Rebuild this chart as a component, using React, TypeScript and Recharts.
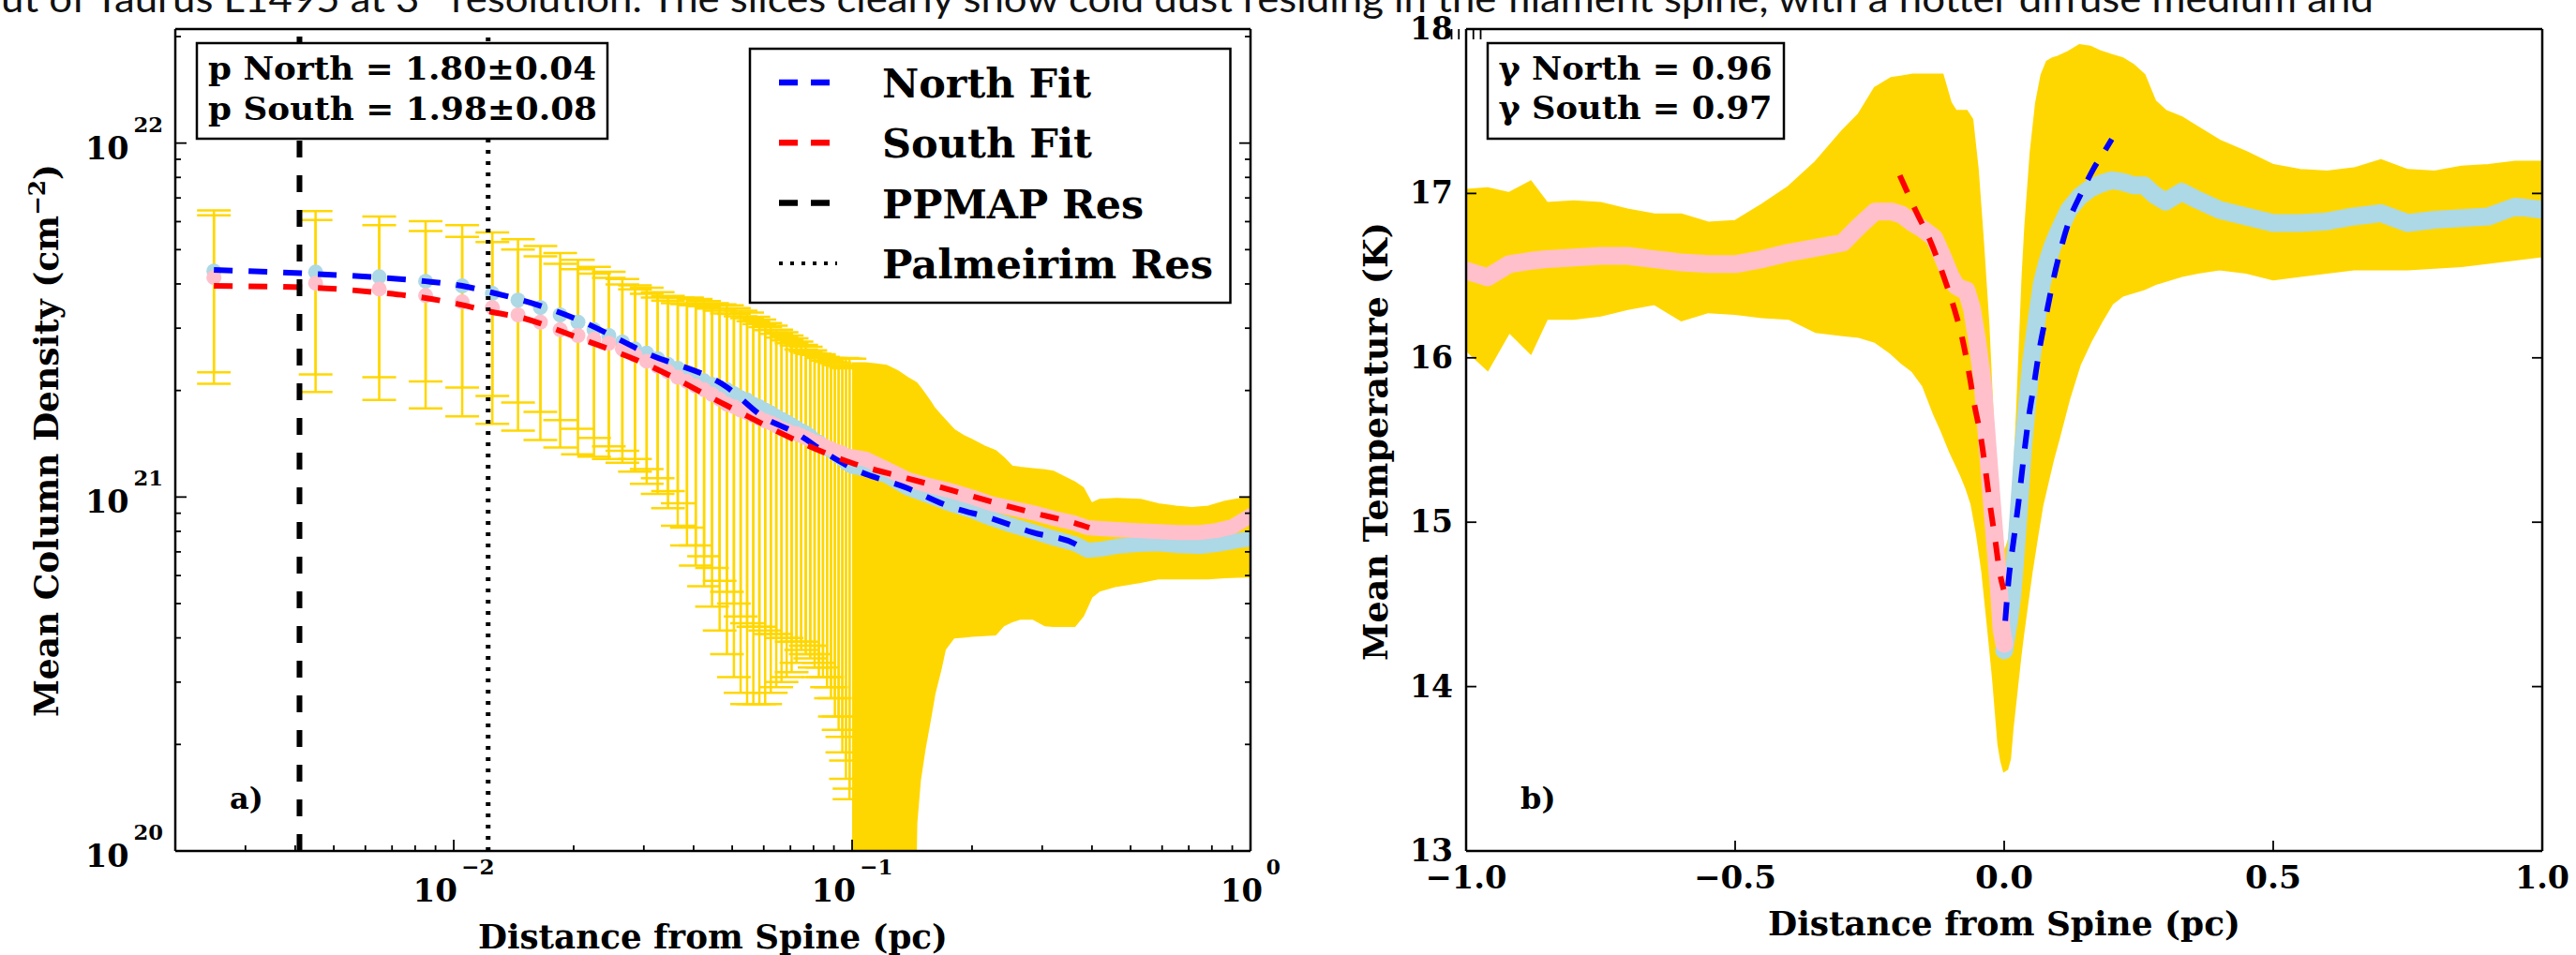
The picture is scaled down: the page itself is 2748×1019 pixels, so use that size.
import React from 'react';
import { ComposedChart, Scatter, Line, Area, XAxis, YAxis, ErrorBar, ReferenceLine } from 'recharts';

const SERIF = '"DejaVu Serif", "Liberation Serif", serif';
const GOLD = '#FFD700';
const LIGHTBLUE = '#ADD8E6';
const PINK = '#FFC0CB';
const E21 = 1e21;

const caption = 'ut of Taurus L1495 at 3\u2033 resolution. The slices clearly show cold dust residing in the filament spine, with a hotter diffuse medium and';

// ---------------- panel a) column density (values in units of 1e21 cm^-2) ----------------
const sparseX = [0.0025, 0.0045, 0.0065, 0.0085, 0.0105, 0.0125, 0.0145, 0.0165, 0.0185, 0.0205, 0.0225, 0.0245, 0.0265, 0.0285, 0.0305, 0.0325, 0.0345, 0.0365, 0.0385, 0.0405, 0.0425, 0.0445, 0.0465, 0.0485, 0.0505, 0.0525, 0.0545, 0.0565, 0.0585, 0.0605, 0.0625, 0.0645, 0.0665, 0.0685, 0.0705, 0.0725, 0.0745, 0.0765, 0.0785, 0.0805, 0.0825, 0.0845, 0.0865, 0.0885, 0.0905, 0.0925, 0.0945, 0.0965, 0.0985];
const northMean21 = [4.35, 4.32, 4.19, 4.07, 3.95, 3.76, 3.60, 3.43, 3.27, 3.12, 2.97, 2.86, 2.74, 2.62, 2.55, 2.46, 2.37, 2.31, 2.24, 2.18, 2.13, 2.08, 2.04, 2.01, 1.96, 1.91, 1.88, 1.83, 1.80, 1.76, 1.73, 1.69, 1.66, 1.63, 1.60, 1.57, 1.54, 1.52, 1.49, 1.45, 1.43, 1.40, 1.37, 1.35, 1.33, 1.30, 1.28, 1.25, 1.23];
const northErr21 = [2.10, 2.10, 2.01, 1.95, 1.91, 1.83, 1.75, 1.69, 1.62, 1.56, 1.50, 1.47, 1.39, 1.34, 1.35, 1.33, 1.33, 1.35, 1.42, 1.45, 1.45, 1.45, 1.46, 1.47, 1.46, 1.45, 1.44, 1.40, 1.37, 1.34, 1.32, 1.28, 1.26, 1.23, 1.21, 1.18, 1.15, 1.14, 1.11, 1.09, 1.09, 1.07, 1.06, 1.06, 1.06, 1.06, 1.07, 1.07, 1.08];
const southMean21 = [4.17, 4.02, 3.87, 3.71, 3.56, 3.43, 3.27, 3.12, 2.97, 2.86, 2.79, 2.72, 2.62, 2.52, 2.42, 2.34, 2.26, 2.18, 2.12, 2.06, 2.01, 1.95, 1.89, 1.83, 1.80, 1.76, 1.73, 1.70, 1.67, 1.64, 1.62, 1.59, 1.56, 1.54, 1.52, 1.51, 1.49, 1.47, 1.45, 1.43, 1.42, 1.40, 1.38, 1.37, 1.35, 1.34, 1.33, 1.31, 1.30];
const southErr21 = [2.08, 2.04, 1.99, 1.93, 1.87, 1.82, 1.73, 1.67, 1.59, 1.54, 1.49, 1.44, 1.37, 1.34, 1.33, 1.32, 1.33, 1.35, 1.39, 1.42, 1.45, 1.46, 1.47, 1.47, 1.49, 1.48, 1.47, 1.44, 1.41, 1.38, 1.34, 1.30, 1.26, 1.23, 1.20, 1.17, 1.12, 1.11, 1.10, 1.10, 1.11, 1.09, 1.09, 1.10, 1.11, 1.12, 1.14, 1.15, 1.16];

const denseX = [0.100, 0.108, 0.122, 0.138, 0.155, 0.175, 0.200, 0.223, 0.250, 0.284, 0.320, 0.362, 0.390, 0.420, 0.460, 0.520, 0.587, 0.660, 0.747, 0.820, 0.900, 0.950, 1.000];
const denseNorth21 = [1.22, 1.20, 1.15, 1.06, 1.01, 0.959, 0.914, 0.871, 0.834, 0.799, 0.766, 0.738, 0.707, 0.712, 0.725, 0.734, 0.738, 0.729, 0.725, 0.734, 0.747, 0.756, 0.761];
const denseSouth21 = [1.30, 1.28, 1.20, 1.12, 1.08, 1.045, 1.00, 0.959, 0.931, 0.903, 0.871, 0.844, 0.819, 0.814, 0.809, 0.804, 0.799, 0.794, 0.794, 0.804, 0.824, 0.855, 0.886];

const bandX = [0.100, 0.104, 0.108, 0.115, 0.122, 0.130, 0.138, 0.143, 0.145, 0.148, 0.152, 0.157, 0.161, 0.167, 0.171, 0.180, 0.190, 0.200, 0.215, 0.229, 0.240, 0.252, 0.264, 0.284, 0.305, 0.320, 0.362, 0.380, 0.399, 0.418, 0.461, 0.530, 0.587, 0.650, 0.712, 0.784, 0.862, 0.930, 1.000];
const bandLo21 = [0.108, 0.05, 0.05, 0.05, 0.05, 0.05, 0.05, 0.05, 0.12, 0.158, 0.193, 0.236, 0.278, 0.328, 0.371, 0.401, 0.403, 0.405, 0.407, 0.409, 0.434, 0.445, 0.453, 0.453, 0.434, 0.432, 0.432, 0.462, 0.522, 0.544, 0.561, 0.575, 0.589, 0.589, 0.589, 0.589, 0.593, 0.595, 0.596];
const bandHi21 = [2.39, 2.39, 2.39, 2.37, 2.35, 2.27, 2.17, 2.12, 2.10, 2.04, 1.96, 1.86, 1.78, 1.70, 1.65, 1.55, 1.49, 1.45, 1.39, 1.35, 1.29, 1.22, 1.21, 1.20, 1.19, 1.18, 1.10, 1.06, 0.959, 0.983, 0.989, 0.983, 0.954, 0.940, 0.931, 0.940, 0.971, 0.985, 1.00];

const northFitXA = [0.0025, 0.0045, 0.0065, 0.0085, 0.0105, 0.0125, 0.0165, 0.0205, 0.0305, 0.0486, 0.060, 0.072, 0.087, 0.0995, 0.1375, 0.175, 0.223, 0.284, 0.362, 0.394];
const northFit21 = [4.38, 4.27, 4.17, 4.07, 3.95, 3.78, 3.47, 3.17, 2.55, 2.04, 1.68, 1.52, 1.32, 1.21, 1.06, 0.942, 0.871, 0.794, 0.738, 0.695];
const southFitXA = [0.0025, 0.0045, 0.0065, 0.0085, 0.0105, 0.0125, 0.0145, 0.0205, 0.0305, 0.0486, 0.072, 0.0995, 0.1375, 0.175, 0.223, 0.284, 0.362, 0.394];
const southFit21 = [3.95, 3.90, 3.78, 3.65, 3.49, 3.33, 3.23, 2.82, 2.37, 1.81, 1.45, 1.25, 1.13, 1.05, 0.971, 0.903, 0.844, 0.819];

const ppmapRes = 0.0041;
const palmeirimRes = 0.0122;

const xMajorTicksA = [0.01, 0.1, 1];
const xMajorExpA = ['\u22122', '\u22121', '0'];
const xMajorWidthA = [87, 87, 64];
const xMinorTicksA = [0.002, 0.003, 0.004, 0.005, 0.006, 0.007, 0.008, 0.009, 0.02, 0.03, 0.04, 0.05, 0.06, 0.07, 0.08, 0.09, 0.2, 0.3, 0.4, 0.5, 0.6, 0.7, 0.8, 0.9];
const yMajorTicksA = [1e20, 1e21, 1e22];
const yMajorExpA = ['20', '21', '22'];
const yMinorTicksA = [2e20, 3e20, 4e20, 5e20, 6e20, 7e20, 8e20, 9e20, 2e21, 3e21, 4e21, 5e21, 6e21, 7e21, 8e21, 9e21, 2e22];

// ---------------- panel b) temperature ----------------
const southXB = [-1.0, -0.96, -0.92, -0.88, -0.85, -0.80, -0.75, -0.70, -0.65, -0.60, -0.55, -0.50, -0.45, -0.40, -0.35, -0.30, -0.27, -0.24, -0.21, -0.19, -0.17, -0.15, -0.13, -0.115, -0.10, -0.09, -0.08, -0.07, -0.06, -0.05, -0.04, -0.03, -0.02, -0.01, -0.005, 0.0];
const southTB = [16.53, 16.49, 16.57, 16.59, 16.60, 16.61, 16.62, 16.62, 16.60, 16.58, 16.57, 16.57, 16.60, 16.64, 16.67, 16.70, 16.80, 16.89, 16.89, 16.87, 16.82, 16.78, 16.73, 16.62, 16.50, 16.44, 16.42, 16.41, 16.30, 16.10, 15.85, 15.42, 15.00, 14.60, 14.35, 14.26];
const southHiB = [17.02, 17.03, 17.00, 17.07, 16.94, 16.95, 16.94, 16.90, 16.87, 16.87, 16.82, 16.83, 16.93, 17.04, 17.19, 17.38, 17.48, 17.64, 17.70, 17.71, 17.72, 17.72, 17.72, 17.72, 17.55, 17.50, 17.50, 17.50, 17.45, 17.15, 16.70, 16.20, 15.50, 15.00, 14.90, 14.80];
const southLoB = [16.05, 15.93, 16.16, 16.03, 16.24, 16.24, 16.26, 16.30, 16.33, 16.23, 16.28, 16.27, 16.25, 16.24, 16.16, 16.14, 16.13, 16.10, 16.03, 15.97, 15.92, 15.83, 15.66, 15.55, 15.43, 15.36, 15.29, 15.21, 15.11, 14.93, 14.70, 14.38, 14.05, 13.65, 13.55, 13.49];

const northXB = [0.0, 0.005, 0.01, 0.015, 0.02, 0.025, 0.03, 0.035, 0.04, 0.05, 0.06, 0.07, 0.08, 0.09, 0.10, 0.12, 0.14, 0.16, 0.18, 0.20, 0.22, 0.24, 0.26, 0.28, 0.30, 0.33, 0.36, 0.40, 0.45, 0.50, 0.55, 0.60, 0.65, 0.70, 0.75, 0.80, 0.85, 0.90, 0.95, 1.0];
const northTB = [14.22, 14.32, 14.42, 14.55, 14.75, 14.97, 15.20, 15.45, 15.62, 15.97, 16.22, 16.45, 16.58, 16.68, 16.76, 16.90, 16.98, 17.03, 17.06, 17.08, 17.07, 17.05, 17.05, 16.99, 16.95, 17.01, 16.96, 16.90, 16.86, 16.82, 16.82, 16.83, 16.86, 16.88, 16.82, 16.84, 16.85, 16.86, 16.92, 16.90];
const northHiB = [14.80, 14.85, 14.90, 15.07, 15.35, 15.70, 16.10, 16.50, 16.80, 17.25, 17.55, 17.72, 17.80, 17.82, 17.83, 17.86, 17.90, 17.89, 17.86, 17.84, 17.82, 17.78, 17.72, 17.56, 17.50, 17.46, 17.40, 17.32, 17.25, 17.17, 17.14, 17.13, 17.15, 17.20, 17.14, 17.13, 17.16, 17.17, 17.19, 17.19];
const northLoB = [13.49, 13.50, 13.56, 13.75, 13.90, 14.05, 14.20, 14.33, 14.45, 14.69, 14.90, 15.10, 15.24, 15.38, 15.50, 15.75, 15.96, 16.10, 16.22, 16.33, 16.38, 16.40, 16.42, 16.45, 16.47, 16.50, 16.52, 16.54, 16.52, 16.48, 16.50, 16.52, 16.54, 16.54, 16.54, 16.55, 16.56, 16.58, 16.60, 16.62];

const southFitXB = [-0.194, -0.165, -0.136, -0.113, -0.092, -0.078, -0.066, -0.055, -0.043, -0.034, -0.026, -0.017, -0.008, -0.001];
const southFitTB = [17.11, 16.90, 16.70, 16.50, 16.29, 16.12, 15.92, 15.71, 15.51, 15.30, 15.10, 14.90, 14.69, 14.59];
const northFitXB = [0.002, 0.008, 0.018, 0.027, 0.035, 0.044, 0.055, 0.066, 0.078, 0.091, 0.105, 0.1225, 0.143, 0.166, 0.189, 0.200];
const northFitTB = [14.40, 14.64, 14.90, 15.13, 15.36, 15.60, 15.83, 16.06, 16.26, 16.47, 16.66, 16.85, 17.00, 17.15, 17.27, 17.33];

const xTicksB = [-1, -0.5, 0, 0.5, 1];
const xTickLabelsB = ['\u22121.0', '\u22120.5', '0.0', '0.5', '1.0'];
const xTickWidthsB = [87, 88, 62, 60, 58];
const yTicksB = [13, 14, 15, 16, 17, 18];
const yTickLabelsB = ['13', '14', '15', '16', '17', '18'];

const legendEntries = [
  { label: 'North Fit', color: '#0000FF', dash: '20 14' },
  { label: 'South Fit', color: '#FF0000', dash: '20 14' },
  { label: 'PPMAP Res', color: '#000000', dash: '20 14' },
  { label: 'Palmeirim Res', color: '#000000', dash: '4 8' },
];
const legendWidths = [223, 224, 279, 353];

// ---------------- derived tables ----------------
const sparseNorth = sparseX.map((x, i) => ({ x, y: northMean21[i] * E21, err: northErr21[i] * E21 }));
const sparseSouth = sparseX.map((x, i) => ({ x, y: southMean21[i] * E21, err: southErr21[i] * E21 }));
const denseNorth = denseX.map((x, i) => ({ x, y: denseNorth21[i] * E21 }));
const denseSouth = denseX.map((x, i) => ({ x, y: denseSouth21[i] * E21 }));
const bandDataA = bandX.map((x, i) => ({ x, band: [bandLo21[i] * E21, bandHi21[i] * E21] }));
const northFitA = northFitXA.map((x, i) => ({ x, y: northFit21[i] * E21 }));
const southFitA = southFitXA.map((x, i) => ({ x, y: southFit21[i] * E21 }));

const bandDataB = [
  ...southXB.map((x, i) => ({ x, band: [southLoB[i], southHiB[i]] })),
  ...northXB.slice(1).map((x, i) => ({ x, band: [northLoB[i + 1], northHiB[i + 1]] })),
];
const southMeanB = southXB.map((x, i) => ({ x, y: southTB[i] }));
const northMeanB = northXB.map((x, i) => ({ x, y: northTB[i] }));
const southFitB = southFitXB.map((x, i) => ({ x, y: southFitTB[i] }));
const northFitB = northFitXB.map((x, i) => ({ x, y: northFitTB[i] }));

const xTicksA = [...xMinorTicksA, ...xMajorTicksA].sort((a, b) => a - b);
const yTicksA = [...yMinorTicksA, ...yMajorTicksA].sort((a, b) => a - b);

const findIdx = (v: number, arr: number[]) => arr.findIndex((m) => Math.abs(v - m) <= Math.abs(m) * 1e-6 + 1e-12);

const AXIS_LINE = { stroke: '#000', strokeWidth: 2.5 };
const TICK = { stroke: '#000', strokeWidth: 1.8 };
const LABEL = { fontFamily: SERIF, fontWeight: 700 as const, fill: '#000' };

// ---------------- tick renderers ----------------
const bottomLogTick = (p: any) => {
  const { x, y, payload } = p;
  const i = findIdx(payload.value, xMajorTicksA);
  const len = i >= 0 ? 12 : 6;
  return (
    <g>
      <line x1={x} x2={x} y1={y} y2={y - len} {...TICK} />
      {i >= 0 && (
        <text x={x} y={y + 54} textAnchor="middle" fontSize={34} {...LABEL} textLength={xMajorWidthA[i]} lengthAdjust="spacingAndGlyphs">
          <tspan>10</tspan>
          <tspan fontSize={23} dx={4} dy={-29}>{xMajorExpA[i]}</tspan>
        </text>
      )}
    </g>
  );
};
const topLogTick = (p: any) => {
  const { x, y, payload } = p;
  const len = findIdx(payload.value, xMajorTicksA) >= 0 ? 12 : 6;
  return <line x1={x} x2={x} y1={y} y2={y + len} {...TICK} />;
};
const leftLogTick = (p: any) => {
  const { x, y, payload } = p;
  const i = findIdx(payload.value, yMajorTicksA);
  const len = i >= 0 ? 12 : 6;
  return (
    <g>
      <line x1={x} x2={x + len} y1={y} y2={y} {...TICK} />
      {i >= 0 && (
        <text x={x - 13} y={y + 17} textAnchor="end" fontSize={34} {...LABEL} textLength={83} lengthAdjust="spacingAndGlyphs">
          <tspan>10</tspan>
          <tspan fontSize={23} dx={5} dy={-29}>{yMajorExpA[i]}</tspan>
        </text>
      )}
    </g>
  );
};
const rightLogTick = (p: any) => {
  const { x, y, payload } = p;
  const len = findIdx(payload.value, yMajorTicksA) >= 0 ? 12 : 6;
  return <line x1={x} x2={x - len} y1={y} y2={y} {...TICK} />;
};

const bottomLinTick = (p: any) => {
  const { x, y, payload } = p;
  const i = findIdx(payload.value, xTicksB);
  return (
    <g>
      <line x1={x} x2={x} y1={y} y2={y - 11} {...TICK} />
      <text x={x} y={y + 40} textAnchor="middle" fontSize={34} {...LABEL} textLength={xTickWidthsB[i]} lengthAdjust="spacingAndGlyphs">{xTickLabelsB[i]}</text>
    </g>
  );
};
const topLinTick = (p: any) => {
  const { x, y } = p;
  return <line x1={x} x2={x} y1={y} y2={y + 11} {...TICK} />;
};
const leftLinTick = (p: any) => {
  const { x, y, payload } = p;
  const i = findIdx(payload.value, yTicksB);
  return (
    <g>
      <line x1={x} x2={x + 11} y1={y} y2={y} {...TICK} />
      <text x={x - 14} y={y + 11} textAnchor="end" fontSize={34} {...LABEL} textLength={46} lengthAdjust="spacingAndGlyphs">{yTickLabelsB[i]}</text>
    </g>
  );
};
const rightLinTick = (p: any) => {
  const { x, y } = p;
  return <line x1={x} x2={x - 11} y1={y} y2={y} {...TICK} />;
};

const renderNothing = () => <g />;
const circleShape = (fill: string) => (p: any) => <circle cx={p.cx} cy={p.cy} r={8} fill={fill} />;
const blueCircle = circleShape(LIGHTBLUE);
const pinkCircle = circleShape(PINK);

const axisCommon = { tickSize: 0, tickMargin: 0, tickLine: false, interval: 0 as const, allowDataOverflow: true, axisLine: AXIS_LINE };

function PanelA() {
  return (
    <ComposedChart width={1400} height={1019} data={bandDataA} margin={{ top: 30, right: 65, bottom: 0, left: 37 }}>
      <XAxis dataKey="x" type="number" scale="log" domain={[0.002, 1]} ticks={xTicksA} tick={bottomLogTick} height={111} {...axisCommon} />
      <XAxis xAxisId="top" orientation="top" type="number" scale="log" domain={[0.002, 1]} ticks={xTicksA} tick={topLogTick} height={1} {...axisCommon} />
      <YAxis dataKey="y" type="number" scale="log" domain={[1e20, 2.1e22]} ticks={yTicksA} tick={leftLogTick} width={150} {...axisCommon} />
      <YAxis yAxisId="right" orientation="right" type="number" scale="log" domain={[1e20, 2.1e22]} ticks={yTicksA} tick={rightLogTick} width={1} {...axisCommon} />

      <Scatter data={sparseNorth} shape={renderNothing} isAnimationActive={false} zIndex={100}>
        <ErrorBar dataKey="err" direction="y" width={18} stroke={GOLD} strokeWidth={2.5} zIndex={100} />
      </Scatter>
      <Scatter data={sparseSouth} shape={renderNothing} isAnimationActive={false} zIndex={101}>
        <ErrorBar dataKey="err" direction="y" width={18} stroke={GOLD} strokeWidth={2.5} zIndex={101} />
      </Scatter>
      <Area dataKey="band" type="linear" fill={GOLD} fillOpacity={1} stroke={GOLD} strokeWidth={2} isAnimationActive={false} dot={false} activeDot={false} zIndex={110} />
      <Line data={denseNorth} dataKey="y" type="linear" stroke={LIGHTBLUE} strokeWidth={16} strokeLinecap="round" strokeLinejoin="round" dot={false} activeDot={false} isAnimationActive={false} zIndex={120} />
      <Scatter data={sparseNorth} shape={blueCircle} isAnimationActive={false} zIndex={130} />
      <Line data={denseSouth} dataKey="y" type="linear" stroke={PINK} strokeWidth={16} strokeLinecap="round" strokeLinejoin="round" dot={false} activeDot={false} isAnimationActive={false} zIndex={140} />
      <Scatter data={sparseSouth} shape={pinkCircle} isAnimationActive={false} zIndex={150} />
      <Line data={northFitA} dataKey="y" type="monotone" stroke="#0000FF" strokeWidth={6} strokeDasharray="20 17" dot={false} activeDot={false} isAnimationActive={false} zIndex={160} />
      <Line data={southFitA} dataKey="y" type="monotone" stroke="#FF0000" strokeWidth={6} strokeDasharray="20 17" dot={false} activeDot={false} isAnimationActive={false} zIndex={170} />
      <ReferenceLine x={ppmapRes} stroke="#000" strokeWidth={6} strokeDasharray="18 19" zIndex={180} />
      <ReferenceLine x={palmeirimRes} stroke="#000" strokeWidth={5} strokeDasharray="4 8" zIndex={181} />
    </ComposedChart>
  );
}

function PanelB() {
  return (
    <ComposedChart width={1348} height={1019} data={bandDataB} margin={{ top: 30, right: 35, bottom: 0, left: 14 }}>
      <XAxis dataKey="x" type="number" domain={[-1, 1]} ticks={xTicksB} tick={bottomLinTick} height={111} {...axisCommon} />
      <XAxis xAxisId="top" orientation="top" type="number" domain={[-1, 1]} ticks={xTicksB} tick={topLinTick} height={1} {...axisCommon} />
      <YAxis dataKey="y" type="number" domain={[13, 18]} ticks={yTicksB} tick={leftLinTick} width={150} {...axisCommon} />
      <YAxis yAxisId="right" orientation="right" type="number" domain={[13, 18]} ticks={yTicksB} tick={rightLinTick} width={1} {...axisCommon} />

      <Area dataKey="band" type="linear" fill={GOLD} fillOpacity={1} stroke={GOLD} strokeWidth={3} isAnimationActive={false} dot={false} activeDot={false} zIndex={100} />
      <Line data={northMeanB} dataKey="y" type="linear" stroke={LIGHTBLUE} strokeWidth={19} strokeLinecap="round" strokeLinejoin="round" dot={false} activeDot={false} isAnimationActive={false} zIndex={120} />
      <Line data={southMeanB} dataKey="y" type="linear" stroke={PINK} strokeWidth={19} strokeLinecap="round" strokeLinejoin="round" dot={false} activeDot={false} isAnimationActive={false} zIndex={130} />
      <Line data={southFitB} dataKey="y" type="monotone" stroke="#FF0000" strokeWidth={6} strokeDasharray="20 17" dot={false} activeDot={false} isAnimationActive={false} zIndex={140} />
      <Line data={northFitB} dataKey="y" type="monotone" stroke="#0000FF" strokeWidth={6} strokeDasharray="20 17" dot={false} activeDot={false} isAnimationActive={false} zIndex={150} />
    </ComposedChart>
  );
}

function Overlay() {
  return (
    <svg width={2748} height={1019} style={{ position: 'absolute', left: 0, top: 0, pointerEvents: 'none' }}>
      <text x={1} y={13} fontFamily="Lato, 'Open Sans', sans-serif" fontSize={40} fill="#111" textLength={2531} lengthAdjust="spacingAndGlyphs">{caption}</text>

      {/* panel a annotations */}
      <text transform="translate(62,470) rotate(-90)" textAnchor="middle" fontSize={35} {...LABEL} textLength={590} lengthAdjust="spacingAndGlyphs">
        Mean Column Density (cm<tspan fontSize={24} dy={-14}>{'\u22122'}</tspan><tspan dy={14}>)</tspan>
      </text>
      <text x={760.5} y={1012} textAnchor="middle" fontSize={35} {...LABEL} textLength={501} lengthAdjust="spacingAndGlyphs">Distance from Spine (pc)</text>
      <rect x={210} y={46} width={438} height={102} fill="#fff" stroke="#000" strokeWidth={2.5} />
      <text x={222} y={85} fontSize={34} {...LABEL} textLength={414} lengthAdjust="spacingAndGlyphs">p North = 1.80±0.04</text>
      <text x={222} y={128} fontSize={34} {...LABEL} textLength={415} lengthAdjust="spacingAndGlyphs">p South = 1.98±0.08</text>
      <rect x={800} y={52} width={512.5} height={271} fill="#fff" stroke="#000" strokeWidth={2.5} />
      {legendEntries.map((e, i) => {
        const base = 104 + i * 64.3;
        return (
          <g key={e.label}>
            <line x1={831} x2={e.dash === '4 8' ? 893 : 886} y1={base - 16} y2={base - 16} stroke={e.color} strokeWidth={e.dash === '4 8' ? 4 : 6.5} strokeDasharray={e.dash} />
            <text x={941} y={base} fontSize={42} {...LABEL} textLength={legendWidths[i]} lengthAdjust="spacingAndGlyphs">{e.label}</text>
          </g>
        );
      })}
      <text x={245} y={863} fontSize={32} {...LABEL}>a)</text>

      {/* panel b annotations */}
      <text transform="translate(1480,471) rotate(-90)" textAnchor="middle" fontSize={35} {...LABEL} textLength={468} lengthAdjust="spacingAndGlyphs">Mean Temperature (K)</text>
      <text x={2138} y={998} textAnchor="middle" fontSize={35} {...LABEL} textLength={504} lengthAdjust="spacingAndGlyphs">Distance from Spine (pc)</text>
      <rect x={1587} y={46} width={316} height={102} fill="#fff" stroke="#000" strokeWidth={2.5} />
      <text x={1598.5} y={85} fontSize={34} {...LABEL} textLength={292} lengthAdjust="spacingAndGlyphs">γ North = 0.96</text>
      <text x={1598.5} y={127} fontSize={34} {...LABEL} textLength={292} lengthAdjust="spacingAndGlyphs">γ South = 0.97</text>
      <text x={1622} y={863} fontSize={32} {...LABEL}>b)</text>
    </svg>
  );
}

export default function App() {
  return (
    <div style={{ position: 'absolute', left: 0, top: 0, width: 2748, height: 1019, background: '#fff', overflow: 'hidden' }}>
      <div style={{ position: 'absolute', left: 0, top: 0 }}>
        <PanelA />
      </div>
      <div style={{ position: 'absolute', left: 1400, top: 0 }}>
        <PanelB />
      </div>
      <Overlay />
    </div>
  );
}
